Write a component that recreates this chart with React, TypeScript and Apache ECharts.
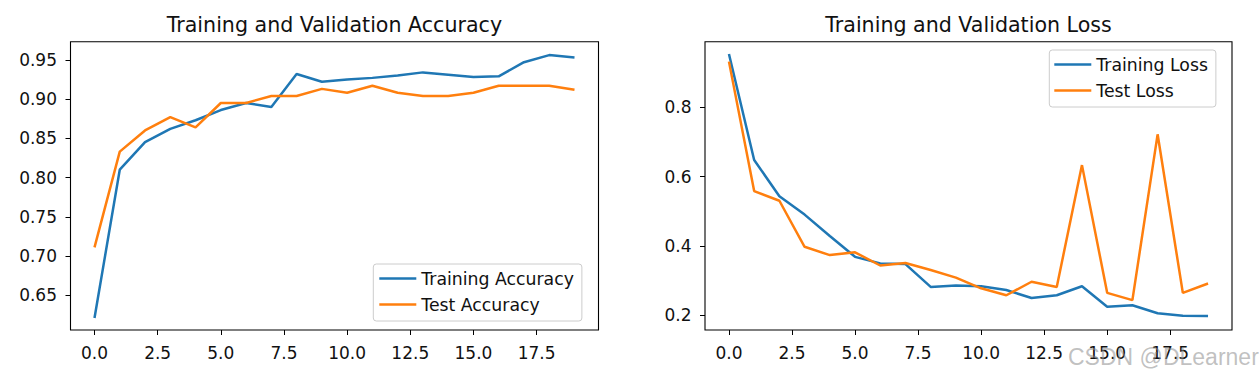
import React, { useEffect, useRef } from "react";
import * as echarts from "echarts";

const epochs = [0, 1, 2, 3, 4, 5, 6, 7, 8, 9, 10, 11, 12, 13, 14, 15, 16, 17, 18, 19];
const trainAcc = [0.621, 0.81, 0.845, 0.862, 0.873, 0.886, 0.895, 0.89, 0.932, 0.922, 0.925, 0.927, 0.93, 0.934, 0.931, 0.928, 0.929, 0.947, 0.956, 0.953];
const testAcc = [0.711, 0.833, 0.86, 0.877, 0.864, 0.895, 0.895, 0.904, 0.904, 0.913, 0.908, 0.917, 0.908, 0.904, 0.904, 0.908, 0.917, 0.917, 0.917, 0.912];
const trainLoss = [0.954, 0.648, 0.543, 0.49, 0.428, 0.368, 0.349, 0.347, 0.281, 0.285, 0.283, 0.272, 0.249, 0.257, 0.283, 0.224, 0.228, 0.205, 0.198, 0.197];
const testLoss = [0.932, 0.558, 0.53, 0.397, 0.373, 0.381, 0.343, 0.35, 0.33, 0.308, 0.277, 0.257, 0.296, 0.281, 0.633, 0.264, 0.243, 0.722, 0.264, 0.291];

const xTicks = [0, 2.5, 5, 7.5, 10, 12.5, 15, 17.5];
const accTicks = [0.65, 0.7, 0.75, 0.8, 0.85, 0.9, 0.95];
const lossTicks = [0.2, 0.4, 0.6, 0.8];

const FONT = "DejaVu Sans";
const TXT = "#111";
const BLUE = "#1f77b4";
const ORANGE = "#ff7f0e";

const pairs = (ys: number[]) => epochs.map((x, i) => [x, ys[i]]);

export default function App() {
  const ref = useRef<HTMLDivElement>(null);
  useEffect(() => {
    document.body.style.margin = "0";
    const chart = echarts.init(ref.current!, null, { renderer: "svg" });
    const xAxisBase = (gridIndex: number) => ({
      type: "value",
      gridIndex,
      min: -0.95,
      max: 19.95,
      axisLine: { show: false, onZero: false },
      splitLine: { show: false },
      axisTick: { show: true, length: 5, customValues: xTicks, lineStyle: { color: "#000", width: 1 } },
      axisLabel: {
        customValues: xTicks,
        formatter: (v: number) => v.toFixed(1),
        fontFamily: FONT,
        fontSize: 17,
        color: TXT,
        margin: 14,
      },
    });
    const yAxisBase = (gridIndex: number, min: number, max: number, ticks: number[], dec: number) => ({
      type: "value",
      gridIndex,
      min,
      max,
      axisLine: { show: false, onZero: false },
      splitLine: { show: false },
      axisTick: { show: true, length: 5, customValues: ticks, lineStyle: { color: "#000", width: 1 } },
      axisLabel: {
        customValues: ticks,
        formatter: (v: number) => v.toFixed(dec),
        fontFamily: FONT,
        fontSize: 17,
        color: TXT,
        margin: 13.5,
      },
    });
    const legendBase = {
      orient: "vertical",
      icon: "rect",
      itemWidth: 37,
      itemHeight: 2.5,
      itemGap: 9,
      itemTextGap: 13,
      padding: [6, 8, 8, 6],
      borderColor: "#cccccc",
      borderWidth: 1,
      borderRadius: 3,
      backgroundColor: "rgba(255,255,255,0.8)",
      textStyle: { fontFamily: FONT, fontSize: 17.3, color: TXT },
    };
    const lineSeries = (name: string, data: number[], color: string, idx: number) => ({
      type: "line",
      name,
      xAxisIndex: idx,
      yAxisIndex: idx,
      data: pairs(data),
      symbol: "none",
      showSymbol: false,
      color,
      lineStyle: { color, width: 2.5 },
    });
    chart.setOption({
      animation: false,
      backgroundColor: "#fff",
      title: [
        {
          text: "Training and Validation Accuracy",
          left: 334.4,
          textAlign: "center",
          top: 14,
          textStyle: { fontFamily: FONT, fontSize: 20.6, fontWeight: "normal", color: TXT },
          padding: 0,
        },
        {
          text: "Training and Validation Loss",
          left: 968.5,
          textAlign: "center",
          top: 14,
          textStyle: { fontFamily: FONT, fontSize: 20.6, fontWeight: "normal", color: TXT },
          padding: 0,
        },
      ],
      grid: [
        { left: 70.5, top: 41.7, width: 528, height: 288.3, show: true, borderColor: "#000", borderWidth: 1.1, backgroundColor: "transparent" },
        { left: 705, top: 41.7, width: 527, height: 288.3, show: true, borderColor: "#000", borderWidth: 1.1, backgroundColor: "transparent" },
      ],
      xAxis: [xAxisBase(0), xAxisBase(1)],
      yAxis: [
        yAxisBase(0, 0.6057, 0.9731, accTicks, 2),
        yAxisBase(1, 0.1566, 0.9896, lossTicks, 1),
      ],
      legend: [
        { ...legendBase, left: 373.3, top: 264, data: ["Training Accuracy", "Test Accuracy"] },
        { ...legendBase, left: 1049.3, top: 50, padding: [6, 8, 8, 5], data: ["Training Loss", "Test Loss"] },
      ],
      series: [
        lineSeries("Training Accuracy", trainAcc, BLUE, 0),
        lineSeries("Test Accuracy", testAcc, ORANGE, 0),
        lineSeries("Training Loss", trainLoss, BLUE, 1),
        lineSeries("Test Loss", testLoss, ORANGE, 1),
      ],
      graphic: [
        {
          type: "text",
          z: 100,
          style: {
            text: "CSDN @DLearner",
            x: 1068,
            y: 356.5,
            verticalAlign: "middle",
            font: '23px "Liberation Sans"',
            fill: "rgba(140,140,140,0.55)",
          },
        },
      ],
    });
    return () => chart.dispose();
  }, []);
  return <div ref={ref} style={{ position: "absolute", left: 0, top: 0, width: 1259, height: 378 }} />;
}
